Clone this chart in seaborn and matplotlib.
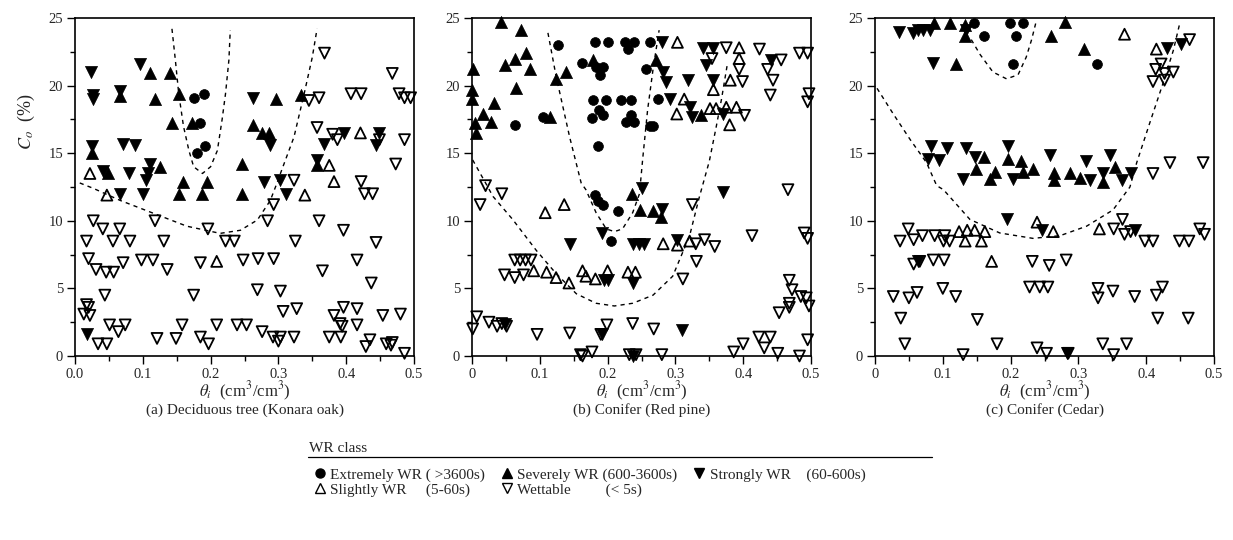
import matplotlib
matplotlib.use('Agg')
import matplotlib.pyplot as plt
from matplotlib.lines import Line2D
from matplotlib.ticker import MultipleLocator
import pandas as pd
import seaborn as sns

# points: (theta_i, Co)
# (a) Konara oak
oak_extreme = [(0.175, 19.1), (0.190, 19.4), (0.185, 17.2), (0.180, 15.0), (0.192, 15.5)]
oak_severe = [(0.110, 20.9), (0.140, 20.9), (0.066, 19.2), (0.118, 19.0), (0.154, 19.4), (0.296, 19.0),
              (0.334, 19.3), (0.143, 17.2), (0.173, 17.2), (0.263, 17.1), (0.276, 16.5), (0.286, 16.5),
              (0.025, 15.0), (0.247, 14.2), (0.049, 13.5), (0.126, 14.0), (0.160, 12.9), (0.195, 12.9),
              (0.153, 12.0), (0.187, 12.0), (0.246, 12.0), (0.357, 14.1)]
oak_strong = [(0.023, 21.0), (0.096, 21.6), (0.027, 19.3), (0.027, 19.0), (0.066, 19.6), (0.263, 19.1),
              (0.288, 15.6), (0.397, 16.5), (0.449, 16.5), (0.367, 15.7), (0.444, 15.6), (0.025, 15.5),
              (0.071, 15.7), (0.089, 15.6), (0.357, 14.5), (0.041, 13.7), (0.079, 13.5), (0.110, 14.2),
              (0.108, 13.5), (0.104, 13.0), (0.279, 12.9), (0.303, 13.0), (0.066, 12.0), (0.100, 12.0),
              (0.311, 12.0), (0.017, 1.6)]
oak_slight = [(0.421, 16.5), (0.375, 14.1), (0.022, 13.5), (0.382, 12.9), (0.047, 11.9), (0.339, 11.9),
              (0.209, 7.0)]
oak_wettable = [(0.345, 18.9), (0.360, 19.1), (0.368, 22.4), (0.407, 19.4), (0.422, 19.4), (0.468, 20.9),
                (0.478, 19.4), (0.486, 19.1), (0.495, 19.1), (0.357, 16.9), (0.380, 16.4), (0.449, 16.0),
                (0.387, 16.0), (0.486, 16.0), (0.473, 14.2), (0.323, 13.0), (0.422, 12.9), (0.427, 12.0),
                (0.439, 12.0), (0.293, 11.2), (0.027, 10.0), (0.041, 9.4), (0.066, 9.4), (0.118, 10.0),
                (0.196, 9.4), (0.284, 10.0), (0.360, 10.0), (0.396, 9.3), (0.017, 8.5), (0.056, 8.5),
                (0.081, 8.5), (0.131, 8.5), (0.222, 8.5), (0.235, 8.5), (0.325, 8.5), (0.444, 8.4),
                (0.020, 7.2), (0.031, 6.4), (0.046, 6.2), (0.057, 6.2), (0.071, 6.9), (0.098, 7.1),
                (0.115, 7.1), (0.136, 6.4), (0.185, 6.9), (0.248, 7.1), (0.270, 7.2), (0.293, 7.2),
                (0.365, 6.3), (0.416, 7.1), (0.437, 5.4), (0.044, 4.5), (0.175, 4.5), (0.269, 4.9),
                (0.303, 4.8), (0.017, 3.8), (0.020, 3.6), (0.013, 3.1), (0.022, 3.0), (0.307, 3.3),
                (0.327, 3.5), (0.396, 3.6), (0.416, 3.5), (0.382, 3.0), (0.454, 3.0), (0.480, 3.1),
                (0.051, 2.3), (0.074, 2.3), (0.064, 1.8), (0.158, 2.3), (0.209, 2.3), (0.239, 2.3),
                (0.253, 2.3), (0.391, 2.4), (0.394, 2.2), (0.416, 2.3), (0.034, 0.9), (0.047, 0.9),
                (0.121, 1.3), (0.149, 1.3), (0.185, 1.4), (0.197, 0.9), (0.276, 1.8), (0.292, 1.4),
                (0.303, 1.4), (0.300, 1.1), (0.323, 1.4), (0.375, 1.4), (0.392, 1.4), (0.435, 1.2),
                (0.429, 0.7), (0.459, 0.9), (0.466, 0.8), (0.468, 1.0), (0.486, 0.2)]
oak_curve_inner = [(0.143, 24.2), (0.148, 21.9), (0.153, 19.4), (0.160, 17.0), (0.168, 15.2), (0.175, 14.0),
                   (0.188, 13.5), (0.200, 14.0), (0.210, 15.2), (0.217, 17.5), (0.222, 19.4), (0.227, 21.9),
                   (0.229, 24.1)]
oak_curve_outer = [(0.007, 12.8), (0.027, 12.4), (0.067, 11.5), (0.116, 10.55), (0.165, 9.6), (0.214, 9.07),
                   (0.244, 9.3), (0.269, 10.06), (0.288, 11.5), (0.298, 12.8), (0.303, 13.5), (0.323, 16.2),
                   (0.338, 19.4), (0.350, 22.1), (0.357, 24.2)]

# (b) Red pine
pine_extreme = [(0.127, 23.0), (0.181, 23.2), (0.200, 23.2), (0.225, 23.2), (0.239, 23.2), (0.230, 22.7),
                (0.262, 23.2), (0.162, 21.7), (0.183, 21.4), (0.193, 21.4), (0.189, 20.8), (0.257, 21.2),
                (0.178, 18.9), (0.188, 18.2), (0.198, 18.9), (0.177, 17.6), (0.193, 17.8), (0.220, 18.9),
                (0.235, 18.9), (0.235, 17.8), (0.227, 17.3), (0.239, 17.3), (0.275, 19.0), (0.063, 17.1),
                (0.104, 17.7), (0.262, 17.0), (0.267, 17.0), (0.186, 15.5), (0.182, 11.9), (0.193, 11.2),
                (0.186, 11.5), (0.216, 10.7), (0.205, 8.5)]
pine_severe = [(0.043, 24.7), (0.072, 24.1), (0.080, 22.4), (0.063, 22.0), (0.048, 21.5), (0.086, 21.2),
               (0.002, 21.2), (0.065, 19.8), (0.0, 19.7), (0.0, 19.0), (0.124, 20.5), (0.139, 21.0),
               (0.178, 21.9), (0.272, 21.9), (0.338, 17.8), (0.033, 18.7), (0.016, 17.9), (0.028, 17.3),
               (0.004, 17.2), (0.006, 16.5), (0.115, 17.7), (0.236, 12.0), (0.248, 10.8), (0.267, 10.7),
               (0.279, 10.3)]
pine_strong = [(0.280, 23.2), (0.340, 22.8), (0.355, 22.8), (0.345, 21.5), (0.441, 21.9), (0.281, 21.0),
               (0.286, 20.3), (0.318, 20.4), (0.356, 20.4), (0.292, 19.0), (0.321, 18.4), (0.325, 17.7),
               (0.370, 17.9), (0.251, 12.4), (0.280, 10.9), (0.370, 12.1), (0.192, 9.1), (0.145, 8.3),
               (0.237, 8.3), (0.247, 8.3), (0.254, 8.3), (0.302, 8.6), (0.194, 5.6), (0.200, 5.6),
               (0.237, 5.4), (0.048, 2.4), (0.192, 1.6), (0.310, 1.9), (0.237, 0.0)]
pine_slight = [(0.303, 23.2), (0.394, 22.8), (0.394, 22.0), (0.356, 19.7), (0.381, 20.4), (0.313, 19.0),
               (0.302, 17.9), (0.351, 18.3), (0.360, 18.3), (0.375, 18.4), (0.390, 18.4), (0.380, 17.1),
               (0.108, 10.6), (0.136, 11.2), (0.282, 8.3), (0.303, 8.2), (0.321, 8.5), (0.091, 6.3),
               (0.110, 6.2), (0.124, 5.8), (0.143, 5.4), (0.163, 6.3), (0.168, 5.9), (0.182, 5.7),
               (0.200, 6.3), (0.230, 6.2), (0.241, 6.2)]
pine_wettable = [(0.354, 22.0), (0.375, 22.8), (0.394, 21.2), (0.424, 22.7), (0.456, 21.9), (0.436, 21.2),
                 (0.483, 22.4), (0.495, 22.4), (0.399, 20.3), (0.444, 20.4), (0.440, 19.3), (0.497, 19.4),
                 (0.495, 18.8), (0.402, 17.8), (0.020, 12.6), (0.012, 11.2), (0.044, 12.0), (0.325, 11.2),
                 (0.466, 12.3), (0.330, 8.3), (0.343, 8.6), (0.358, 8.1), (0.413, 8.9), (0.490, 9.1),
                 (0.495, 8.7), (0.331, 7.0), (0.063, 7.1), (0.071, 7.1), (0.079, 7.1), (0.087, 7.1),
                 (0.048, 6.0), (0.063, 5.8), (0.076, 6.0), (0.311, 5.7), (0.468, 5.6), (0.472, 4.9),
                 (0.468, 3.9), (0.468, 3.6), (0.485, 4.4), (0.493, 4.3), (0.497, 3.7), (0.453, 3.2),
                 (0.001, 2.0), (0.007, 2.9), (0.025, 2.5), (0.037, 2.2), (0.044, 2.4), (0.051, 2.2),
                 (0.096, 1.6), (0.144, 1.7), (0.190, 1.6), (0.199, 2.3), (0.237, 2.4), (0.268, 2.0),
                 (0.423, 1.4), (0.440, 1.4), (0.400, 0.9), (0.386, 0.3), (0.431, 0.6), (0.451, 0.2),
                 (0.495, 1.2), (0.483, 0.0), (0.160, 0.1), (0.163, 0.0), (0.177, 0.3), (0.232, 0.1),
                 (0.242, 0.1), (0.280, 0.1)]
pine_curve_inner = [(0.112, 23.9), (0.124, 20.7), (0.144, 16.2), (0.161, 12.8), (0.168, 12.3), (0.183, 10.6),
                    (0.198, 9.4), (0.210, 9.2), (0.222, 9.4), (0.237, 10.6), (0.247, 12.0), (0.252, 14.7),
                    (0.259, 18.2), (0.267, 21.2), (0.276, 24.1)]
pine_curve_outer = [(0.001, 14.5), (0.020, 12.8), (0.031, 11.8), (0.060, 10.1), (0.095, 7.8), (0.124, 6.1),
                    (0.154, 4.6), (0.183, 3.9), (0.210, 3.7), (0.237, 3.9), (0.267, 4.5), (0.296, 5.9),
                    (0.321, 8.9), (0.335, 11.7), (0.350, 14.4), (0.360, 16.9), (0.368, 19.0), (0.377, 21.7)]

# (c) Cedar
cedar_extreme = [(0.146, 24.6), (0.161, 23.7), (0.199, 24.6), (0.218, 24.6), (0.208, 23.7), (0.327, 21.6),
                 (0.204, 21.6)]
cedar_severe = [(0.087, 24.6), (0.111, 24.6), (0.133, 24.5), (0.133, 23.7), (0.260, 23.7), (0.280, 24.7),
                (0.308, 22.7), (0.120, 21.6), (0.161, 14.7), (0.196, 14.6), (0.216, 14.4), (0.354, 14.0),
                (0.149, 13.8), (0.177, 13.6), (0.169, 13.1), (0.218, 13.6), (0.233, 13.8), (0.264, 13.5),
                (0.264, 13.0), (0.288, 13.5), (0.302, 13.2), (0.336, 12.9)]
cedar_strong = [(0.036, 24.0), (0.056, 23.9), (0.063, 24.1), (0.071, 24.1), (0.081, 24.1), (0.134, 24.1),
                (0.086, 21.7), (0.431, 22.8), (0.452, 23.1), (0.083, 15.5), (0.106, 15.4), (0.134, 15.4),
                (0.078, 14.6), (0.095, 14.5), (0.147, 14.7), (0.196, 15.5), (0.258, 14.9), (0.311, 14.4),
                (0.347, 14.9), (0.130, 13.1), (0.203, 13.1), (0.317, 13.0), (0.336, 13.5), (0.365, 13.0),
                (0.378, 13.5), (0.195, 10.1), (0.246, 9.3), (0.384, 9.3), (0.064, 7.0), (0.283, 0.2)]
cedar_slight = [(0.368, 23.8), (0.415, 22.7), (0.239, 9.9), (0.263, 9.2), (0.331, 9.4), (0.124, 9.2),
                (0.136, 9.3), (0.147, 9.3), (0.162, 9.2), (0.133, 8.5), (0.157, 8.5), (0.172, 7.0)]
cedar_wettable = [(0.464, 23.4), (0.422, 21.6), (0.414, 21.2), (0.410, 20.3), (0.427, 20.9), (0.440, 21.0),
                  (0.427, 20.4), (0.435, 14.3), (0.484, 14.3), (0.410, 13.5), (0.352, 9.4), (0.365, 10.1),
                  (0.368, 9.0), (0.377, 9.2), (0.398, 8.5), (0.410, 8.5), (0.449, 8.5), (0.463, 8.5),
                  (0.479, 9.4), (0.486, 9.0), (0.049, 9.4), (0.037, 8.5), (0.057, 8.6), (0.070, 8.9),
                  (0.088, 8.9), (0.103, 8.9), (0.101, 8.5), (0.110, 8.5), (0.057, 6.8), (0.066, 7.0),
                  (0.086, 7.1), (0.102, 7.1), (0.232, 7.0), (0.257, 6.7), (0.282, 7.1), (0.027, 4.4),
                  (0.050, 4.3), (0.062, 4.7), (0.100, 5.0), (0.119, 4.4), (0.228, 5.1), (0.243, 5.1),
                  (0.255, 5.1), (0.329, 5.0), (0.329, 4.3), (0.351, 4.8), (0.383, 4.4), (0.415, 4.5),
                  (0.424, 5.1), (0.038, 2.8), (0.151, 2.7), (0.417, 2.8), (0.462, 2.8), (0.044, 0.9),
                  (0.130, 0.1), (0.180, 0.9), (0.239, 0.6), (0.253, 0.2), (0.285, 0.2), (0.336, 0.9),
                  (0.352, 0.1), (0.371, 0.9)]
cedar_curve_inner = [(0.142, 23.4), (0.155, 22.3), (0.174, 21.0), (0.194, 20.5), (0.211, 20.8), (0.223, 22.1),
                     (0.231, 23.4), (0.237, 24.6)]
cedar_curve_outer = [(0.003, 19.8), (0.027, 17.9), (0.052, 16.0), (0.076, 14.3), (0.091, 12.6), (0.101, 12.3),
                     (0.140, 10.1), (0.184, 9.1), (0.233, 8.7), (0.273, 8.9), (0.312, 9.6), (0.351, 10.8),
                     (0.376, 12.5), (0.386, 14.3), (0.405, 17.2), (0.425, 20.2), (0.440, 22.6), (0.449, 24.5)]

captions = ['(a) Deciduous tree (Konara oak)', '(b) Conifer (Red pine)', '(c) Conifer (Cedar)']
class_labels = ['Extremely WR ( >3600s)', 'Severely WR (600-3600s)', 'Strongly WR    (60-600s)',
                'Slightly WR     (5-60s)', 'Wettable         (< 5s)']

# marker, filled, size
class_styles = [('o', True, 50), ('^', True, 76), ('v', True, 76), ('^', False, 62), ('v', False, 62)]

panels = [
    ([oak_extreme, oak_severe, oak_strong, oak_slight, oak_wettable], [oak_curve_inner, oak_curve_outer]),
    ([pine_extreme, pine_severe, pine_strong, pine_slight, pine_wettable], [pine_curve_inner, pine_curve_outer]),
    ([cedar_extreme, cedar_severe, cedar_strong, cedar_slight, cedar_wettable], [cedar_curve_inner, cedar_curve_outer]),
]

sns.set_theme(style='ticks')
plt.rcParams['font.family'] = ['Liberation Serif', 'DejaVu Serif']
plt.rcParams['mathtext.fontset'] = 'stix'

fig = plt.figure(figsize=(12.33, 5.4), dpi=100)
lefts = [75 / 1233, 472 / 1233, 875 / 1233]
axes = [fig.add_axes([l, 1 - 356 / 540, 339 / 1233, 338 / 540]) for l in lefts]

for i, (ax, (groups, curves)) in enumerate(zip(axes, panels)):
    for curve in curves:
        cdf = pd.DataFrame(curve, columns=['theta', 'co'])
        sns.lineplot(data=cdf, x='theta', y='co', sort=False, estimator=None, color='black',
                     lw=1.0, linestyle=(0, (3, 3)), ax=ax, zorder=2)
    for pts, (m, filled, s) in zip(groups, class_styles):
        df = pd.DataFrame(pts, columns=['theta', 'co'])
        if filled:
            sns.scatterplot(data=df, x='theta', y='co', marker=m, s=s, color='black',
                            edgecolor='black', linewidth=0.5, ax=ax, clip_on=False, zorder=3)
        else:
            sns.scatterplot(data=df, x='theta', y='co', marker=m, s=s, facecolor='none',
                            edgecolor='black', linewidth=1.3, ax=ax, clip_on=False, zorder=3)

    ax.set_xlim(0, 0.5)
    ax.set_ylim(0, 25)
    ax.set_xticks([0, 0.1, 0.2, 0.3, 0.4, 0.5])
    if i == 0:
        ax.set_xticklabels(['0.0', '0.1', '0.2', '0.3', '0.4', '0.5'])
    else:
        ax.set_xticklabels(['0', '0.1', '0.2', '0.3', '0.4', '0.5'])
    ax.set_yticks([0, 5, 10, 15, 20, 25])
    ax.xaxis.set_minor_locator(MultipleLocator(0.05))
    ax.yaxis.set_minor_locator(MultipleLocator(2.5))
    ax.tick_params(which='major', direction='out', length=6, width=1, labelsize=10.5, color='black', pad=2.5)
    ax.tick_params(which='minor', direction='out', length=3.5, width=1, color='black')
    for sp in ax.spines.values():
        sp.set_visible(True)
        sp.set_color('black')
        sp.set_linewidth(1.2)
    ax.set_xlabel(r'$\theta_i$  (cm$^3$/cm$^3$)', fontsize=12, labelpad=-1)
    ax.set_ylabel('')
    ax.text(0.5, -0.14, captions[i], transform=ax.transAxes, ha='center', va='top', fontsize=11)

fig.text(26 / 1233, 1 - 122 / 540, r'$C_o$  (%)', rotation=90, ha='center', va='center', fontsize=13)

# legend
fig.text(309 / 1233, 1 - 455 / 540, 'WR class', ha='left', va='bottom', fontsize=11)
fig.add_artist(Line2D([308 / 1233, 932 / 1233], [1 - 457 / 540] * 2, transform=fig.transFigure,
                      color='black', lw=0.9))
handles = []
for m, filled, s in class_styles:
    handles.append(Line2D([], [], marker=m, linestyle='none', markersize=6.5,
                          markerfacecolor='black' if filled else 'none', markeredgecolor='black',
                          markeredgewidth=1.0))
order = [0, 3, 1, 4, 2]
fig.legend([handles[k] for k in order], [class_labels[k] for k in order], ncol=3,
           loc='upper left', bbox_to_anchor=(303 / 1233, 1 - 457 / 540), frameon=False,
           fontsize=11, handlelength=0.8, handletextpad=0.3, columnspacing=1.0,
           labelspacing=0.1, borderpad=0.2)

fig.savefig('out.png', dpi=100)
